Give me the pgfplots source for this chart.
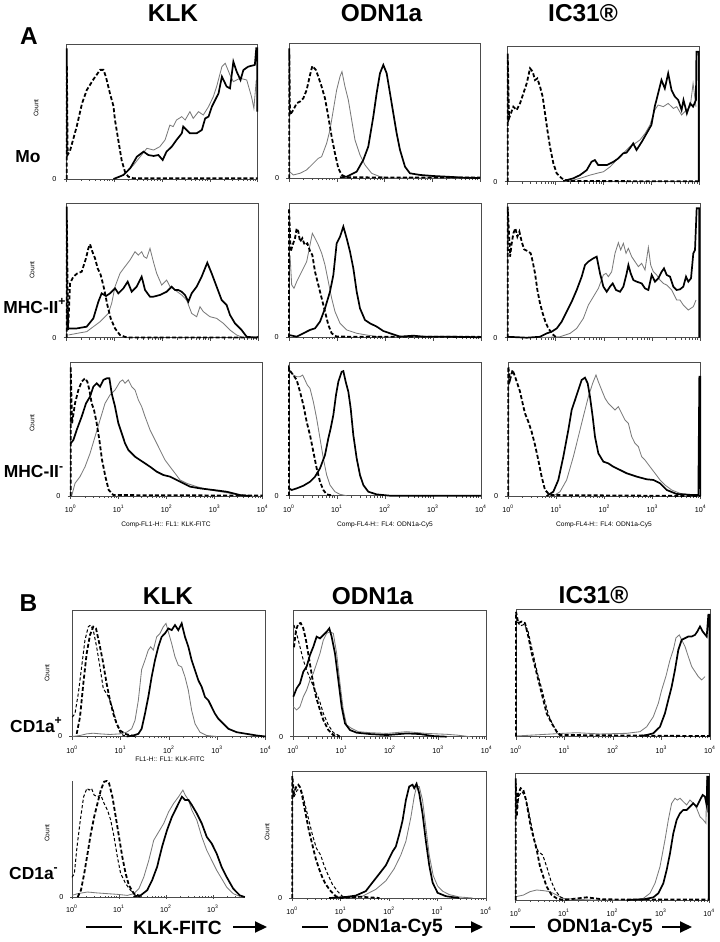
\documentclass[border=0pt]{standalone}
\usepackage{fontspec}
\setmainfont{Liberation Sans}
\usepackage{pgfplots}
\pgfplotsset{compat=1.18}
\usetikzlibrary{arrows.meta}
\pgfplotsset{
 flow/.style={scale only axis, anchor=south west, xmin=0, xmax=4, ymin=0, ymax=1, clip=false,
  axis line style={black!70, line width=0.5pt},
  xtick={0,1,2,3,4},
  minor xtick={0.301,0.477,0.602,0.699,0.778,0.845,0.903,0.954,1.301,1.477,1.602,1.699,1.778,1.845,1.903,1.954,2.301,2.477,2.602,2.699,2.778,2.845,2.903,2.954,3.301,3.477,3.602,3.699,3.778,3.845,3.903,3.954},
  xticklabels={}, ytick={0}, yticklabels={0},
  tick align=outside, xtick pos=bottom, ytick pos=left,
  major tick length=1.6pt, minor tick length=0.9pt,
  tick style={black!70, line width=0.35pt},
  tick label style={font=\fontsize{3.6}{4}\selectfont},
  xticklabel style={yshift=0.5pt},
 },
 nozero/.style={ytick=\empty},
 xl/.style={xticklabels={{10\textsuperscript{0}},{10\textsuperscript{1}},{10\textsuperscript{2}},{10\textsuperscript{3}},{10\textsuperscript{4}}}},
 iso/.style={black, line width=0.9pt, dash pattern=on 2pt off 1.1pt, mark=none},
 isot/.style={black, line width=0.5pt, dash pattern=on 1.6pt off 1.1pt, mark=none},
 gr/.style={black!52, line width=0.42pt, mark=none},
 bk/.style={black, line width=0.85pt, mark=none},
}
\begin{document}
\begin{tikzpicture}
\path[use as bounding box] (0,0) rectangle (359.5pt,-471pt);

% ---------------- A row 1 ----------------
\begin{axis}[flow, at={(33.35pt,-89.5pt)}, width=95.5pt, height=67.35pt]
\addplot[gr] coordinates {(0.98,0)(1.12,0.017)(1.26,0.054)(1.40,0.104)(1.54,0.166)(1.68,0.228)(1.82,0.215)(1.95,0.24)(2.06,0.29)(2.16,0.40)(2.23,0.389)(2.30,0.438)(2.41,0.463)(2.48,0.438)(2.58,0.50)(2.65,0.45)(2.76,0.50)(2.86,0.475)(2.97,0.537)(3.07,0.611)(3.14,0.686)(3.25,0.834)(3.32,0.859)(3.42,0.772)(3.49,0.723)(3.63,0.748)(3.77,0.735)(3.87,0.611)(3.92,0.525)(3.97,0.735)};
\addplot[bk] coordinates {(0.98,0)(1.19,0.03)(1.33,0.08)(1.47,0.166)(1.61,0.203)(1.71,0.178)(1.82,0.171)(1.92,0.178)(2.01,0.141)(2.09,0.203)(2.20,0.24)(2.30,0.29)(2.41,0.339)(2.44,0.389)(2.51,0.364)(2.58,0.339)(2.72,0.339)(2.83,0.364)(2.90,0.45)(2.97,0.463)(3.04,0.537)(3.11,0.587)(3.18,0.636)(3.25,0.76)(3.35,0.686)(3.42,0.673)(3.49,0.871)(3.56,0.797)(3.64,0.735)(3.70,0.809)(3.80,0.834)(3.94,0.847)(3.97,0.97)(3.99,0.97)(3.99,0.5)};
\addplot[iso] coordinates {(0,0)(0,0.97)(0.02,0.18)(0.07,0.21)(0.21,0.39)(0.32,0.56)(0.42,0.66)(0.56,0.74)(0.70,0.81)(0.77,0.81)(0.82,0.76)(0.91,0.63)(0.98,0.54)(1.01,0.44)(1.08,0.29)(1.15,0.14)(1.22,0.054)(1.29,0.017)(1.40,0.005)(4,0.005)};
\end{axis}

\begin{axis}[flow, at={(144.65pt,-89.15pt)}, width=95.35pt, height=67.5pt]
\addplot[gr] coordinates {(0,0.05)(0.084,0.025)(0.224,0.037)(0.364,0.062)(0.503,0.111)(0.608,0.148)(0.678,0.16)(0.783,0.259)(0.853,0.358)(0.923,0.506)(0.993,0.654)(1.063,0.753)(1.105,0.79)(1.168,0.679)(1.238,0.58)(1.308,0.432)(1.378,0.284)(1.483,0.173)(1.587,0.099)(1.727,0.037)(1.902,0.012)(2.11,0.002)(4,0.002)};
\addplot[bk] coordinates {(1.063,0.007)(1.203,0.012)(1.413,0.049)(1.552,0.136)(1.657,0.235)(1.762,0.457)(1.832,0.63)(1.902,0.778)(1.972,0.84)(2.042,0.778)(2.112,0.63)(2.182,0.481)(2.252,0.333)(2.322,0.21)(2.427,0.086)(2.531,0.037)(2.741,0.025)(3.02,0.017)(3.3,0.012)(3.65,0.005)(4,0.002)};
\addplot[iso] coordinates {(0,0)(0,0.963)(0.014,0.469)(0.084,0.506)(0.154,0.556)(0.224,0.568)(0.294,0.593)(0.364,0.654)(0.434,0.765)(0.483,0.832)(0.559,0.802)(0.608,0.753)(0.678,0.679)(0.748,0.593)(0.818,0.457)(0.888,0.309)(0.958,0.185)(1.028,0.074)(1.098,0.025)(1.203,0.007)(4,0.005)};
\end{axis}

\begin{axis}[flow, at={(253.85pt,-90.85pt)}, width=95.8pt, height=67.5pt]
\addplot[gr] coordinates {(1.16,0)(1.37,0.012)(1.51,0.025)(1.72,0.049)(1.86,0.062)(2.0,0.074)(2.14,0.111)(2.27,0.16)(2.41,0.21)(2.55,0.259)(2.66,0.284)(2.76,0.309)(2.87,0.358)(2.97,0.42)(3.07,0.531)(3.14,0.568)(3.25,0.556)(3.35,0.58)(3.46,0.543)(3.53,0.556)(3.63,0.494)(3.70,0.519)(3.81,0.556)(3.87,0.728)(3.93,0.556)};
\addplot[bk] coordinates {(1.16,0.005)(1.37,0.025)(1.51,0.049)(1.65,0.086)(1.75,0.148)(1.82,0.16)(1.89,0.123)(2.07,0.123)(2.21,0.148)(2.31,0.173)(2.41,0.21)(2.48,0.215)(2.55,0.247)(2.62,0.284)(2.69,0.235)(2.80,0.296)(2.90,0.358)(3.0,0.42)(3.07,0.556)(3.14,0.654)(3.21,0.753)(3.28,0.691)(3.35,0.802)(3.42,0.679)(3.49,0.63)(3.56,0.605)(3.63,0.531)(3.67,0.605)(3.74,0.506)(3.81,0.58)(3.87,0.556)(3.93,0.605)(3.94,0.963)(3.99,0.963)(3.99,0)};
\addplot[iso] coordinates {(0,0)(0,0.95)(0.028,0.469)(0.118,0.556)(0.188,0.531)(0.257,0.58)(0.327,0.654)(0.397,0.728)(0.466,0.84)(0.522,0.815)(0.57,0.753)(0.619,0.765)(0.675,0.704)(0.73,0.63)(0.779,0.506)(0.828,0.383)(0.883,0.259)(0.953,0.136)(1.023,0.062)(1.127,0.025)(1.266,0.005)(4,0.003)};
\end{axis}

% ---------------- A row 2 ----------------
\begin{axis}[flow, at={(33.35pt,-168.85pt)}, width=95.8pt, height=67.2pt]
\addplot[gr] coordinates {(0.035,0.02)(0.209,0.032)(0.417,0.045)(0.557,0.082)(0.696,0.119)(0.8,0.156)(0.87,0.181)(0.939,0.256)(1.009,0.38)(1.113,0.479)(1.217,0.529)(1.322,0.578)(1.426,0.64)(1.496,0.615)(1.565,0.64)(1.614,0.603)(1.67,0.591)(1.739,0.665)(1.809,0.566)(1.878,0.479)(1.983,0.392)(2.087,0.429)(2.157,0.38)(2.261,0.355)(2.4,0.318)(2.504,0.28)(2.609,0.181)(2.713,0.156)(2.783,0.231)(2.852,0.194)(2.991,0.156)(3.13,0.144)(3.27,0.107)(3.409,0.057)(3.548,0.02)(3.687,0)};
\addplot[bk] coordinates {(0.035,0.069)(0.209,0.069)(0.417,0.082)(0.557,0.144)(0.661,0.268)(0.73,0.33)(0.821,0.31)(0.904,0.33)(1.009,0.367)(1.078,0.33)(1.183,0.367)(1.273,0.417)(1.357,0.342)(1.461,0.38)(1.565,0.454)(1.635,0.355)(1.739,0.305)(1.809,0.305)(1.948,0.318)(2.087,0.342)(2.191,0.38)(2.261,0.355)(2.33,0.355)(2.4,0.342)(2.47,0.318)(2.539,0.268)(2.609,0.33)(2.713,0.38)(2.817,0.454)(2.935,0.558)(3.026,0.479)(3.13,0.38)(3.235,0.28)(3.339,0.243)(3.409,0.169)(3.513,0.107)(3.652,0.057)(3.757,0.007)(3.965,0)(3.99,0.01)};
\addplot[iso] coordinates {(0,0)(0,0.975)(0.028,0.057)(0.07,0.404)(0.139,0.454)(0.223,0.479)(0.313,0.491)(0.403,0.591)(0.452,0.665)(0.487,0.695)(0.536,0.64)(0.591,0.591)(0.647,0.516)(0.71,0.467)(0.779,0.367)(0.849,0.243)(0.918,0.144)(1.009,0.069)(1.113,0.02)(1.252,0.002)(4,0.002)};
\end{axis}

\begin{axis}[flow, at={(144.5pt,-168.65pt)}, width=96pt, height=67pt]
\addplot[gr] coordinates {(0.021,0.614)(0.056,0.391)(0.104,0.366)(0.16,0.415)(0.229,0.465)(0.299,0.515)(0.368,0.565)(0.4375,0.689)(0.486,0.776)(0.542,0.739)(0.611,0.689)(0.681,0.627)(0.75,0.54)(0.819,0.415)(0.889,0.291)(0.958,0.192)(1.063,0.104)(1.201,0.055)(1.41,0.03)(1.618,0.017)(1.9,0.002)(4,0.002)};
\addplot[bk] coordinates {(0,0.017)(0.16,0.005)(0.299,0.03)(0.4375,0.055)(0.542,0.067)(0.646,0.117)(0.75,0.216)(0.854,0.341)(0.924,0.465)(0.993,0.701)(1.063,0.751)(1.132,0.826)(1.201,0.739)(1.271,0.639)(1.34,0.515)(1.41,0.341)(1.479,0.216)(1.583,0.129)(1.688,0.104)(1.826,0.08)(1.965,0.047)(2.104,0.03)(2.313,0.005)(2.59,0.012)(2.8,0.005)(3.28,0.005)(4,0)};
\addplot[iso] coordinates {(0,0)(0,0.963)(0.035,0.639)(0.076,0.689)(0.125,0.739)(0.16,0.813)(0.194,0.789)(0.229,0.714)(0.278,0.739)(0.326,0.689)(0.382,0.701)(0.4375,0.644)(0.486,0.614)(0.542,0.49)(0.611,0.391)(0.681,0.291)(0.75,0.192)(0.819,0.092)(0.889,0.03)(0.993,0.005)(4,0.003)};
\end{axis}

\begin{axis}[flow, at={(253.85pt,-168.85pt)}, width=96.15pt, height=67.2pt]
\addplot[gr] coordinates {(0.672,0)(1.088,0.007)(1.296,0.032)(1.435,0.069)(1.574,0.144)(1.678,0.243)(1.782,0.305)(1.886,0.367)(1.99,0.467)(2.045,0.479)(2.094,0.454)(2.163,0.491)(2.232,0.628)(2.302,0.707)(2.35,0.653)(2.406,0.702)(2.461,0.628)(2.51,0.665)(2.579,0.603)(2.648,0.566)(2.718,0.529)(2.787,0.553)(2.856,0.504)(2.926,0.672)(2.974,0.541)(3.03,0.491)(3.099,0.467)(3.168,0.429)(3.237,0.404)(3.307,0.392)(3.411,0.355)(3.515,0.28)(3.584,0.28)(3.653,0.243)(3.757,0.206)(3.861,0.231)(3.917,0.28)};
\addplot[bk] coordinates {(0,0.007)(0.395,0)(0.672,0.007)(0.811,0.032)(0.915,0.045)(1.019,0.069)(1.123,0.119)(1.227,0.194)(1.331,0.268)(1.435,0.355)(1.539,0.454)(1.608,0.541)(1.678,0.566)(1.782,0.591)(1.851,0.603)(1.92,0.479)(1.99,0.38)(2.059,0.342)(2.128,0.38)(2.184,0.404)(2.253,0.355)(2.336,0.342)(2.406,0.38)(2.475,0.479)(2.51,0.541)(2.558,0.479)(2.614,0.429)(2.683,0.417)(2.787,0.404)(2.856,0.367)(2.926,0.355)(2.995,0.467)(3.064,0.417)(3.134,0.442)(3.203,0.491)(3.251,0.516)(3.307,0.467)(3.376,0.454)(3.445,0.38)(3.515,0.355)(3.584,0.36)(3.653,0.38)(3.709,0.454)(3.757,0.417)(3.813,0.442)(3.861,0.628)(3.896,0.653)(3.931,0.963)(3.986,0.963)(3.986,0)};
\addplot[iso] coordinates {(0,0)(0,0.975)(0.049,0.603)(0.083,0.702)(0.118,0.777)(0.159,0.814)(0.201,0.752)(0.243,0.789)(0.291,0.715)(0.34,0.658)(0.409,0.645)(0.478,0.628)(0.52,0.566)(0.568,0.479)(0.617,0.355)(0.672,0.256)(0.728,0.181)(0.783,0.119)(0.846,0.069)(0.936,0.025)(1.019,0)};
\end{axis}

% ---------------- A row 3 ----------------
\begin{axis}[flow, xl, at={(35.35pt,-248pt)}, width=96pt, height=66.85pt]
\addplot[gr] coordinates {(0.02,0)(0.09,0.095)(0.194,0.145)(0.299,0.219)(0.403,0.319)(0.507,0.444)(0.611,0.569)(0.715,0.693)(0.819,0.756)(0.924,0.793)(1.028,0.855)(1.083,0.868)(1.132,0.843)(1.201,0.868)(1.271,0.818)(1.34,0.793)(1.41,0.718)(1.479,0.668)(1.549,0.594)(1.653,0.494)(1.757,0.419)(1.861,0.344)(1.965,0.269)(2.069,0.219)(2.174,0.17)(2.278,0.12)(2.417,0.095)(2.625,0.07)(2.903,0.045)(3.25,0.025)(3.528,0.007)(3.806,0)};
\addplot[bk] coordinates {(0,0.394)(0.056,0.419)(0.125,0.494)(0.229,0.594)(0.319,0.693)(0.403,0.743)(0.472,0.818)(0.542,0.843)(0.611,0.818)(0.681,0.868)(0.75,0.88)(0.806,0.88)(0.854,0.768)(0.924,0.668)(0.993,0.544)(1.063,0.469)(1.132,0.394)(1.201,0.344)(1.271,0.319)(1.34,0.294)(1.444,0.269)(1.549,0.244)(1.653,0.219)(1.792,0.182)(1.931,0.157)(2.069,0.145)(2.208,0.12)(2.347,0.095)(2.486,0.07)(2.694,0.057)(2.972,0.045)(3.25,0.032)(3.528,0.007)(3.736,0)};
\addplot[iso] coordinates {(0,0)(0,0.968)(0.028,0.544)(0.09,0.693)(0.16,0.793)(0.229,0.855)(0.299,0.88)(0.347,0.855)(0.389,0.793)(0.4375,0.693)(0.486,0.643)(0.542,0.544)(0.597,0.419)(0.653,0.269)(0.722,0.145)(0.792,0.045)(0.889,0.007)(4,0.003)};
\end{axis}

\begin{axis}[flow, xl, at={(144.5pt,-247.85pt)}, width=96pt, height=66.5pt]
\addplot[gr] coordinates {(0.021,0.945)(0.09,0.907)(0.16,0.895)(0.229,0.895)(0.285,0.907)(0.333,0.87)(0.382,0.832)(0.4375,0.807)(0.507,0.707)(0.576,0.581)(0.646,0.431)(0.715,0.281)(0.785,0.155)(0.854,0.08)(0.958,0.03)(1.063,0.01)(1.201,0)};
\addplot[bk] coordinates {(0,0.055)(0.056,0.043)(0.16,0.055)(0.299,0.075)(0.4375,0.105)(0.542,0.143)(0.646,0.206)(0.75,0.306)(0.819,0.431)(0.868,0.506)(0.924,0.607)(0.979,0.757)(1.028,0.857)(1.097,0.932)(1.132,0.937)(1.181,0.857)(1.236,0.782)(1.285,0.657)(1.34,0.456)(1.41,0.281)(1.479,0.155)(1.549,0.08)(1.653,0.03)(1.826,0.01)(2.104,0)(4,0)};
\addplot[iso] coordinates {(0,0)(0,0.957)(0.035,0.932)(0.09,0.907)(0.16,0.87)(0.229,0.782)(0.299,0.682)(0.368,0.556)(0.4375,0.456)(0.507,0.331)(0.576,0.206)(0.646,0.105)(0.715,0.043)(0.785,0.01)(0.924,0)};
\end{axis}

\begin{axis}[flow, xl, at={(254.15pt,-248pt)}, width=96.2pt, height=66.85pt]
\addplot[gr] coordinates {(0.936,0)(1.075,0.032)(1.213,0.12)(1.352,0.294)(1.456,0.444)(1.56,0.594)(1.664,0.743)(1.754,0.843)(1.823,0.905)(1.872,0.855)(1.941,0.793)(2.011,0.731)(2.08,0.693)(2.149,0.668)(2.218,0.643)(2.288,0.668)(2.357,0.618)(2.426,0.569)(2.496,0.544)(2.565,0.444)(2.634,0.394)(2.704,0.369)(2.773,0.294)(2.842,0.269)(2.946,0.219)(3.05,0.17)(3.154,0.12)(3.258,0.082)(3.397,0.045)(3.57,0.02)(3.847,0.007)};
\addplot[bk] coordinates {(0.797,0)(0.936,0.032)(1.04,0.12)(1.144,0.294)(1.248,0.494)(1.317,0.643)(1.387,0.718)(1.456,0.793)(1.525,0.868)(1.594,0.885)(1.65,0.843)(1.698,0.743)(1.754,0.594)(1.802,0.444)(1.872,0.319)(1.976,0.257)(2.08,0.244)(2.184,0.219)(2.322,0.195)(2.461,0.17)(2.669,0.145)(2.877,0.125)(3.016,0.12)(3.154,0.095)(3.293,0.045)(3.501,0.015)(3.847,0.007)(3.951,0.007)(3.972,0.893)(3.993,0.893)(3.993,0)};
\addplot[iso] coordinates {(0,0)(0,0.968)(0.035,0.868)(0.09,0.943)(0.139,0.893)(0.187,0.843)(0.243,0.781)(0.298,0.693)(0.347,0.618)(0.416,0.556)(0.485,0.481)(0.555,0.382)(0.624,0.269)(0.693,0.145)(0.763,0.045)(0.867,0.007)(4,0)};
\end{axis}

% ---------------- B row 1 ----------------
\begin{axis}[flow, xl, at={(36.15pt,-368.25pt)}, width=96.7pt, height=63.25pt]
\addplot[gr] coordinates {(0,0)(0.159,0.008)(0.297,0.021)(0.434,0.026)(0.572,0.021)(0.779,0.016)(0.986,0.021)(1.124,0.034)(1.228,0.061)(1.297,0.127)(1.366,0.286)(1.434,0.529)(1.503,0.603)(1.572,0.683)(1.621,0.709)(1.676,0.683)(1.745,0.788)(1.814,0.815)(1.883,0.868)(1.938,0.894)(1.986,0.828)(2.055,0.735)(2.124,0.63)(2.193,0.563)(2.262,0.55)(2.331,0.471)(2.4,0.365)(2.469,0.206)(2.538,0.101)(2.641,0.034)(2.779,0.008)(2.986,0)};
\addplot[bk] coordinates {(1.124,0)(1.262,0.008)(1.366,0.021)(1.434,0.061)(1.503,0.18)(1.572,0.312)(1.641,0.471)(1.71,0.603)(1.779,0.709)(1.848,0.788)(1.917,0.815)(1.986,0.854)(2.055,0.841)(2.124,0.881)(2.193,0.841)(2.262,0.894)(2.331,0.788)(2.4,0.709)(2.469,0.603)(2.538,0.524)(2.607,0.444)(2.676,0.392)(2.745,0.312)(2.814,0.286)(2.883,0.233)(2.952,0.18)(3.021,0.14)(3.124,0.101)(3.228,0.061)(3.4,0.034)(3.607,0.021)(3.814,0.008)(4,0)};
\addplot[isot] coordinates {(0,0.153)(0.055,0.18)(0.124,0.339)(0.193,0.55)(0.262,0.762)(0.331,0.868)(0.379,0.881)(0.434,0.841)(0.503,0.709)(0.572,0.55)(0.641,0.378)(0.71,0.339)(0.779,0.286)(0.848,0.206)(0.917,0.101)(0.986,0.034)(1.055,0.008)(1.19,0)};
\addplot[iso] coordinates {(0.09,0.021)(0.159,0.153)(0.228,0.418)(0.297,0.656)(0.366,0.802)(0.434,0.868)(0.49,0.854)(0.559,0.735)(0.628,0.603)(0.71,0.418)(0.779,0.286)(0.848,0.18)(0.917,0.101)(0.986,0.048)(1.09,0.021)(1.19,0.011)(1.331,0)};
\end{axis}

\begin{axis}[flow, xl, at={(146.65pt,-368.35pt)}, width=96.7pt, height=63pt]
\addplot[gr] coordinates {(0,0.238)(0.069,0.212)(0.138,0.238)(0.207,0.317)(0.276,0.37)(0.345,0.45)(0.414,0.503)(0.483,0.582)(0.552,0.661)(0.621,0.767)(0.69,0.82)(0.759,0.833)(0.828,0.82)(0.897,0.661)(0.966,0.423)(1.034,0.212)(1.103,0.093)(1.207,0.066)(1.345,0.04)(1.586,0.032)(1.931,0.026)(2.345,0.04)(2.759,0.026)(3.172,0.019)(3.379,0.013)(3.655,0)};
\addplot[bk] coordinates {(0,0.317)(0.069,0.384)(0.138,0.423)(0.207,0.516)(0.276,0.556)(0.345,0.648)(0.414,0.714)(0.483,0.794)(0.552,0.78)(0.621,0.807)(0.69,0.833)(0.745,0.86)(0.793,0.794)(0.862,0.661)(0.931,0.45)(1.0,0.238)(1.069,0.106)(1.172,0.053)(1.31,0.032)(1.586,0.021)(1.931,0.013)(2.345,0.026)(2.621,0.021)(2.897,0.005)(3.172,0)};
\addplot[isot] coordinates {(0.014,0.886)(0.069,0.82)(0.138,0.714)(0.207,0.608)(0.276,0.529)(0.359,0.45)(0.448,0.37)(0.538,0.291)(0.621,0.185)(0.724,0.093)(0.828,0.032)(0.966,0.005)};
\addplot[iso] coordinates {(0.014,0.71)(0.055,0.844)(0.103,0.897)(0.152,0.902)(0.207,0.86)(0.262,0.767)(0.331,0.608)(0.4,0.45)(0.469,0.317)(0.552,0.212)(0.621,0.132)(0.724,0.053)(0.828,0.013)(0.966,0)};
\end{axis}

\begin{axis}[flow, xl, nozero, at={(258pt,-368.25pt)}, width=97pt, height=63.6pt]
\addplot[gr] coordinates {(0,0.004)(0.975,0.025)(1.25,0.03)(1.73,0.02)(2.28,0.025)(2.557,0.038)(2.695,0.077)(2.831,0.156)(2.934,0.261)(3.004,0.366)(3.093,0.476)(3.175,0.602)(3.243,0.681)(3.299,0.776)(3.367,0.799)(3.416,0.76)(3.485,0.707)(3.553,0.628)(3.623,0.55)(3.691,0.51)(3.759,0.471)(3.829,0.445)(3.897,0.471)};
\addplot[bk] coordinates {(2.557,0.004)(2.695,0.012)(2.831,0.025)(2.969,0.077)(3.072,0.183)(3.14,0.287)(3.21,0.392)(3.278,0.524)(3.347,0.681)(3.416,0.76)(3.485,0.773)(3.553,0.786)(3.623,0.786)(3.691,0.799)(3.738,0.825)(3.794,0.865)(3.85,0.825)(3.932,0.786)(3.966,0.957)(3.99,0.957)(3.99,0)};
\addplot[isot] coordinates {(0.03,0.9)(0.09,0.87)(0.16,0.88)(0.24,0.84)(0.3,0.74)(0.37,0.62)(0.44,0.5)(0.52,0.39)(0.6,0.27)(0.67,0.17)(0.76,0.09)(0.86,0.03)(0.96,0.005)};
\addplot[iso] coordinates {(0,0)(0,0.98)(0.047,0.891)(0.118,0.904)(0.186,0.891)(0.254,0.786)(0.324,0.655)(0.392,0.55)(0.46,0.445)(0.495,0.392)(0.563,0.287)(0.633,0.181)(0.736,0.104)(0.839,0.038)(0.907,0.012)(4,0.003)};
\end{axis}

% ---------------- B row 2 ----------------
\begin{axis}[flow, xl, xmax=3.68, axis x line=bottom, axis y line=left, x axis line style={-}, y axis line style={-}, at={(36pt,-448.5pt)}, width=86.5pt, height=58pt]
\addplot[gr] coordinates {(0,0.014)(0.12,0.029)(0.331,0.043)(0.542,0.035)(0.754,0.029)(0.965,0.023)(1.176,0.014)(1.317,0.029)(1.423,0.072)(1.528,0.173)(1.634,0.317)(1.739,0.49)(1.845,0.562)(1.951,0.634)(2.056,0.735)(2.162,0.807)(2.268,0.865)(2.359,0.922)(2.408,0.879)(2.479,0.836)(2.549,0.749)(2.655,0.663)(2.761,0.519)(2.866,0.403)(2.972,0.317)(3.077,0.231)(3.183,0.159)(3.289,0.086)(3.43,0.029)(3.57,0.006)};
\addplot[bk] coordinates {(1.317,0.006)(1.458,0.014)(1.599,0.058)(1.704,0.144)(1.81,0.259)(1.915,0.432)(2.021,0.576)(2.127,0.692)(2.232,0.778)(2.338,0.865)(2.408,0.836)(2.479,0.836)(2.549,0.793)(2.655,0.72)(2.761,0.634)(2.866,0.519)(2.972,0.461)(3.077,0.375)(3.183,0.259)(3.289,0.173)(3.43,0.072)(3.57,0.014)(3.676,0)};
\addplot[isot] coordinates {(0,0.17)(0.049,0.199)(0.106,0.43)(0.176,0.66)(0.246,0.862)(0.317,0.937)(0.366,0.922)(0.415,0.937)(0.472,0.878)(0.542,0.865)(0.613,0.879)(0.683,0.807)(0.754,0.749)(0.824,0.663)(0.894,0.519)(0.965,0.346)(1.035,0.202)(1.141,0.115)(1.246,0.058)(1.352,0.014)(1.458,0)};
\addplot[iso] coordinates {(0.12,0)(0.19,0.058)(0.26,0.202)(0.331,0.375)(0.401,0.548)(0.472,0.692)(0.542,0.807)(0.613,0.922)(0.683,0.994)(0.739,1.0)(0.789,0.98)(0.859,0.865)(0.93,0.692)(1.0,0.519)(1.07,0.346)(1.141,0.202)(1.211,0.101)(1.317,0.029)(1.458,0.006)};
\end{axis}

\begin{axis}[flow, xl, at={(146.15pt,-449pt)}, width=96.85pt, height=63.5pt]
\addplot[gr] coordinates {(1.103,0)(1.448,0.014)(1.724,0.068)(1.931,0.135)(2.103,0.23)(2.241,0.338)(2.345,0.446)(2.448,0.635)(2.517,0.797)(2.566,0.878)(2.621,0.878)(2.69,0.77)(2.759,0.554)(2.828,0.338)(2.91,0.176)(3.0,0.095)(3.103,0.054)(3.241,0.027)(3.448,0.008)(3.724,0)};
\addplot[bk] coordinates {(0.759,0)(1.103,0.008)(1.31,0.019)(1.517,0.054)(1.655,0.122)(1.793,0.189)(1.931,0.257)(2.069,0.365)(2.138,0.405)(2.207,0.5)(2.276,0.608)(2.345,0.77)(2.414,0.878)(2.483,0.892)(2.517,0.865)(2.566,0.9)(2.621,0.824)(2.69,0.662)(2.759,0.446)(2.828,0.257)(2.897,0.122)(3.0,0.041)(3.172,0.014)(3.448,0)};
\addplot[isot] coordinates {(0.034,0.797)(0.103,0.851)(0.152,0.851)(0.207,0.824)(0.276,0.716)(0.345,0.608)(0.414,0.5)(0.497,0.392)(0.586,0.338)(0.655,0.257)(0.745,0.176)(0.828,0.108)(0.931,0.054)(1.034,0.014)(1.172,0)};
\addplot[iso] coordinates {(0,0)(0,0.96)(0.034,0.824)(0.083,0.878)(0.124,0.892)(0.172,0.865)(0.221,0.77)(0.276,0.662)(0.345,0.527)(0.414,0.419)(0.483,0.311)(0.552,0.23)(0.621,0.162)(0.69,0.108)(0.793,0.054)(0.897,0.014)(1.0,0)(1.4,0.01)(1.8,0)};
\end{axis}

\begin{axis}[flow, xl, nozero, at={(257.85pt,-450pt)}, width=96.8pt, height=63.35pt]
\addplot[gr] coordinates {(0,0.026)(0.158,0.039)(0.296,0.066)(0.434,0.079)(0.571,0.074)(0.709,0.066)(0.847,0.039)(0.985,0.013)(1.26,0.005)(1.604,0)(2.43,0)(2.637,0.013)(2.774,0.053)(2.878,0.132)(2.981,0.263)(3.084,0.474)(3.153,0.632)(3.222,0.763)(3.291,0.803)(3.339,0.789)(3.394,0.803)(3.463,0.776)(3.532,0.75)(3.6,0.789)(3.669,0.763)(3.738,0.724)(3.807,0.658)(3.876,0.632)(3.931,0.605)(3.945,0.947)};
\addplot[bk] coordinates {(2.293,0)(2.637,0.005)(2.843,0.021)(2.947,0.053)(3.05,0.132)(3.119,0.237)(3.188,0.368)(3.256,0.526)(3.325,0.632)(3.394,0.684)(3.463,0.711)(3.532,0.711)(3.6,0.737)(3.669,0.763)(3.738,0.737)(3.807,0.789)(3.862,0.829)(3.91,0.816)(3.945,0.75)(3.959,0.974)(3.99,0.974)(3.99,0)};
\addplot[isot] coordinates {(0.021,0.737)(0.076,0.829)(0.131,0.855)(0.193,0.816)(0.262,0.711)(0.33,0.579)(0.399,0.447)(0.468,0.382)(0.558,0.355)(0.64,0.263)(0.723,0.158)(0.812,0.079)(0.916,0.026)(1.053,0)};
\addplot[iso] coordinates {(0,0)(0,0.96)(0.021,0.658)(0.055,0.842)(0.103,0.882)(0.158,0.868)(0.213,0.789)(0.262,0.684)(0.31,0.579)(0.365,0.5)(0.434,0.395)(0.503,0.263)(0.571,0.184)(0.64,0.105)(0.744,0.039)(0.847,0.013)(0.985,0)(1.466,0.021)(1.8,0.005)(4,0.003)};
\end{axis}

% ---------------- texts ----------------
\begin{scope}[x=0.5pt, y=-0.5pt]
\tikzset{ttl/.style={font=\fontsize{12.2}{14}\selectfont\bfseries, inner sep=0pt},
         row/.style={font=\fontsize{8.7}{10}\selectfont\bfseries, inner sep=0pt},
         sm/.style={font=\fontsize{3.3}{4}\selectfont, inner sep=0pt},
         bot/.style={font=\fontsize{9.6}{11}\selectfont\bfseries, inner sep=0pt}}
\node[ttl] at (173,13) {KLK};
\node[ttl] at (381.5,13) {ODN1a};
\node[ttl] at (583,13) {IC31®};
\node[ttl] at (29,36) {A};
\node[row] at (28,157) {Mo};
\node[row] at (35,306) {MHC-II\textsuperscript{+}};
\node[row] at (34,472) {MHC-II\textsuperscript{-}};
\node[ttl] at (28.5,603) {B};
\node[ttl] at (168,596) {KLK};
\node[ttl] at (372.5,596) {ODN1a};
\node[ttl] at (593.5,595) {IC31®};
\node[row] at (36.5,725) {CD1a\textsuperscript{+}};
\node[row] at (34,873) {CD1a\textsuperscript{-}};
% Count labels
\node[sm, rotate=90] at (36,108) {Count};
\node[sm, rotate=90] at (32,270) {Count};
\node[sm, rotate=90] at (32,423) {Count};
\node[sm, rotate=90] at (47,673) {Count};
\node[sm, rotate=90] at (47,833) {Count};
\node[sm, rotate=90] at (267,832) {Count};
% axis titles
\node[sm] at (166,525) {Comp-FL1-H:: FL1: KLK-FITC};
\node[sm] at (385,525) {Comp-FL4-H:: FL4: ODN1a-Cy5};
\node[sm] at (604,525) {Comp-FL4-H:: FL4: ODN1a-Cy5};
\node[sm] at (170,759) {FL1-H:: FL1: KLK-FITC};
% bottom labels
\draw[line width=1pt] (86,927) -- (122,927);
\node[bot] at (177.5,928) {KLK-FITC};
\draw[line width=1pt, -{Triangle[length=6pt,width=5.5pt]}] (233,927) -- (267,927);
\draw[line width=1pt] (302,927) -- (328,927);
\node[bot] at (390,928) {ODN1a-Cy5};
\draw[line width=1pt, -{Triangle[length=6pt,width=5.5pt]}] (455,927) -- (483,927);
\draw[line width=1pt] (510,927) -- (535,927);
\node[bot] at (600,928) {ODN1a-Cy5};
\draw[line width=1pt, -{Triangle[length=6pt,width=5.5pt]}] (662,927) -- (692,927);
\end{scope}
\end{tikzpicture}
\end{document}
